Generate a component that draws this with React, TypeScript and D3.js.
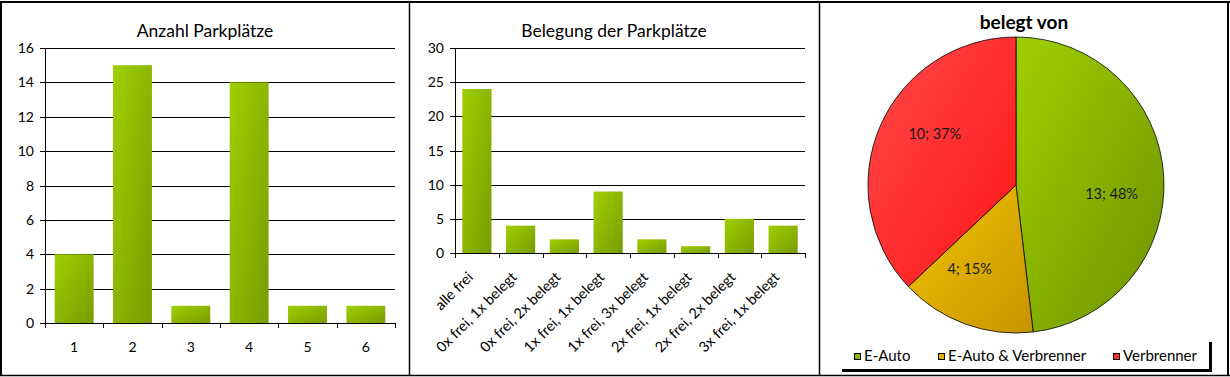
import React from "react";
import * as d3 from "d3";

const leftTitle = "Anzahl Parkplätze";
const leftCategories = ["1", "2", "3", "4", "5", "6"];
const leftValues = [4, 15, 1, 14, 1, 1];
const leftTicks = [0, 2, 4, 6, 8, 10, 12, 14, 16];

const midTitle = "Belegung der Parkplätze";
const midCategories = [
  "alle frei",
  "0x frei, 1x belegt",
  "0x frei, 2x belegt",
  "1x frei, 1x belegt",
  "1x frei, 3x belegt",
  "2x frei, 1x belegt",
  "2x frei, 2x belegt",
  "3x frei, 1x belegt",
];
const midValues = [24, 4, 2, 9, 2, 1, 5, 4];
const midTicks = [0, 5, 10, 15, 20, 25, 30];

const pieTitle = "belegt von";
const pieLabels = ["E-Auto", "E-Auto & Verbrenner", "Verbrenner"];
const pieValues = [13, 4, 10];

const FONT = "Lato, 'Open Sans', sans-serif";

type BarProps = {
  title: string;
  cats: string[];
  vals: number[];
  ticks: number[];
  x0: number;
  x1: number;
  yTop: number;
  yBottom: number;
  titleX: number;
  rotate: boolean;
};

function BarChart({ title, cats, vals, ticks, x0, x1, yTop, yBottom, titleX, rotate }: BarProps) {
  const x = d3
    .scaleBand<string>()
    .domain(cats)
    .range([x0, x1])
    .paddingInner(1 / 3)
    .paddingOuter(1 / 6);
  const y = d3
    .scaleLinear()
    .domain([0, ticks[ticks.length - 1]])
    .range([yBottom, yTop]);
  const step = x.step();
  const boundaries = d3.range(cats.length + 1).map((i) => x0 + i * step);
  return (
    <g>
      <text x={titleX} y={37} textAnchor="middle" fontSize={17.5} fontFamily={FONT} fill="#000">
        {title}
      </text>
      {ticks.map((t) => (
        <g key={t}>
          <line x1={x0 - 5} x2={x1} y1={Math.round(y(t)) + 0.5} y2={Math.round(y(t)) + 0.5} stroke="#000" strokeWidth={1} />
          <text x={x0 - 11} y={y(t)} dy="0.36em" textAnchor="end" fontSize={14} fontFamily={FONT} fill="#000">
            {t}
          </text>
        </g>
      ))}
      <line x1={x0 + 0.5} x2={x0 + 0.5} y1={yTop} y2={yBottom} stroke="#000" strokeWidth={1} />
      {boundaries.map((b, i) => (
        <line key={i} x1={Math.round(b) + 0.5} x2={Math.round(b) + 0.5} y1={yBottom} y2={yBottom + 5} stroke="#000" strokeWidth={1} />
      ))}
      {cats.map((c, i) => (
        <rect
          key={c}
          x={x(c)!}
          y={y(vals[i])}
          width={x.bandwidth()}
          height={yBottom - y(vals[i])}
          fill="url(#barGrad)"
        />
      ))}
      {cats.map((c) => {
        const cx = x(c)! + x.bandwidth() / 2;
        if (!rotate) {
          return (
            <text key={c} x={cx} y={yBottom + 29} textAnchor="middle" fontSize={14} fontFamily={FONT} fill="#000">
              {c}
            </text>
          );
        }
        return (
          <text
            key={c}
            transform={`translate(${cx - 3},${yBottom + 25}) rotate(-45)`}
            textAnchor="end"
            fontSize={14.5}
            fontFamily={FONT}
            fill="#000"
          >
            {c}
          </text>
        );
      })}
    </g>
  );
}

function PieChart() {
  const cx = 1016;
  const cy = 185;
  const r = 148;
  const arcs = d3.pie<number>().sort(null).startAngle(0).endAngle(2 * Math.PI)(pieValues);
  const arcGen = d3.arc<d3.PieArcDatum<number>>().innerRadius(0).outerRadius(r);
  const total = d3.sum(pieValues);
  const grads = ["url(#pieGreen)", "url(#pieYellow)", "url(#pieRed)"];
  const legendFill = ["#8cb800", "#e0b000", "#ff3030"];
  const labelR = 96;
  const angleShift = 0.155;
  const legendX = [854, 938, 1113];
  return (
    <g>
      <text x={1024} y={29} textAnchor="middle" fontSize={19} fontWeight="bold" fontFamily={FONT} fill="#000">
        {pieTitle}
      </text>
      <g transform={`translate(${cx},${cy})`}>
        {arcs.map((a, i) => (
          <path key={i} d={arcGen(a)!} fill={grads[i]} stroke="#000" strokeWidth={0.8} />
        ))}
        {arcs.map((a, i) => {
          const mid = (a.startAngle + a.endAngle) / 2 + angleShift;
          const lx = labelR * Math.sin(mid);
          const ly = -labelR * Math.cos(mid);
          return (
            <text key={i} x={lx} y={ly} dy="0.35em" textAnchor="middle" fontSize={14.5} fontFamily={FONT} fill="#1a1a1a">
              {`${pieValues[i]}; ${Math.round((pieValues[i] / total) * 100)}%`}
            </text>
          );
        })}
      </g>
      <rect x={842} y={342} width={370} height={30} fill="#000" />
      <rect x={840} y={340} width={369} height={29} fill="#fff" />
      {pieLabels.map((l, i) => (
        <g key={l}>
          <rect x={legendX[i] + 0.5} y={353.5} width={6} height={6} fill={legendFill[i]} stroke="#000" strokeWidth={1} />
          <text x={legendX[i] + 10} y={360.5} fontSize={15} fontFamily={FONT} fill="#000">
            {l}
          </text>
        </g>
      ))}
    </g>
  );
}

export default function App() {
  return (
    <svg
      width={1230}
      height={377}
      style={{ position: "absolute", left: 0, top: 0, background: "#fff" }}
    >
      <defs>
        <linearGradient id="barGrad" x1="0" y1="0" x2="1" y2="1">
          <stop offset="0" stopColor="#9fcf00" />
          <stop offset="1" stopColor="#789c00" />
        </linearGradient>
        <linearGradient id="pieGreen" x1="0" y1="0" x2="1" y2="1">
          <stop offset="0" stopColor="#9fd000" />
          <stop offset="1" stopColor="#6f9200" />
        </linearGradient>
        <linearGradient id="pieYellow" x1="0" y1="0" x2="1" y2="1">
          <stop offset="0" stopColor="#f2c400" />
          <stop offset="1" stopColor="#c89400" />
        </linearGradient>
        <linearGradient id="pieRed" x1="0" y1="0" x2="1" y2="1">
          <stop offset="0" stopColor="#ff4a4a" />
          <stop offset="1" stopColor="#ff1414" />
        </linearGradient>
      </defs>
      <rect x={0} y={0} width={1230} height={377} fill="#fff" />
      <BarChart
        title={leftTitle}
        cats={leftCategories}
        vals={leftValues}
        ticks={leftTicks}
        x0={45}
        x1={395}
        yTop={48}
        yBottom={323}
        titleX={205}
        rotate={false}
      />
      <BarChart
        title={midTitle}
        cats={midCategories}
        vals={midValues}
        ticks={midTicks}
        x0={455}
        x1={805}
        yTop={48}
        yBottom={253}
        titleX={614}
        rotate={true}
      />
      <PieChart />
      <line x1={0} x2={1230} y1={2} y2={2} stroke="#000" strokeWidth={2} />
      <line x1={1} x2={1} y1={1} y2={376} stroke="#000" strokeWidth={2} />
      <line x1={0} x2={1230} y1={375.5} y2={375.5} stroke="#000" strokeWidth={1.5} />
      <line x1={1228} x2={1228} y1={1} y2={376} stroke="#000" strokeWidth={2} />
      <line x1={409.5} x2={409.5} y1={1} y2={376} stroke="#000" strokeWidth={1.5} />
      <line x1={819.5} x2={819.5} y1={1} y2={376} stroke="#000" strokeWidth={1.5} />
    </svg>
  );
}
